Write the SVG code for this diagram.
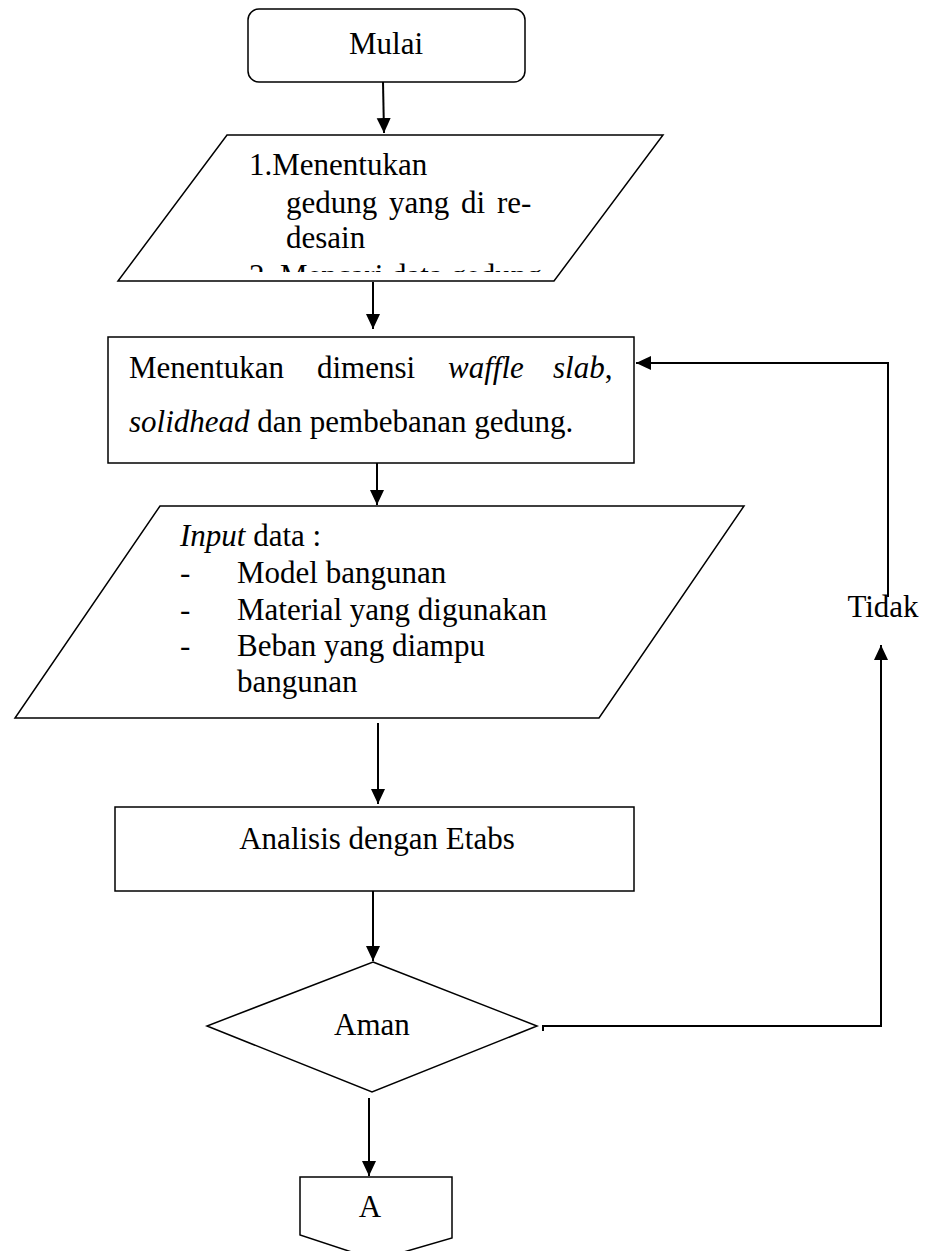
<svg xmlns="http://www.w3.org/2000/svg" width="928" height="1251" viewBox="0 0 928 1251">
<style>
.shape{fill:#fff;stroke:#000;stroke-width:1.5}
.conn{fill:none;stroke:#000;stroke-width:2}
text{font-family:"Liberation Serif","Times New Roman",serif;font-size:31px;fill:#000}
.i{font-style:italic}
</style>
<defs>
<marker id="ah" markerUnits="userSpaceOnUse" markerWidth="16" markerHeight="15" refX="15" refY="7" orient="auto">
<path d="M0,0 L15,7 L0,14 z" fill="#000"/>
</marker>
<clipPath id="c1"><rect x="100" y="136" width="600" height="136"/></clipPath>
</defs>
<rect width="928" height="1251" fill="#fff"/>
<g id="connectors">
<line class="conn" x1="383" y1="82" x2="384" y2="133" marker-end="url(#ah)"/>
<line class="conn" x1="373" y1="282" x2="373" y2="329" marker-end="url(#ah)"/>
<line class="conn" x1="377" y1="463" x2="377" y2="505" marker-end="url(#ah)"/>
<line class="conn" x1="378" y1="723" x2="378" y2="804" marker-end="url(#ah)"/>
<line class="conn" x1="373" y1="891" x2="373" y2="961" marker-end="url(#ah)"/>
<line class="conn" x1="369" y1="1098" x2="369" y2="1176" marker-end="url(#ah)"/>
<path class="conn" d="M543,1031 L543,1026 L881,1026 L881,645" marker-end="url(#ah)"/>
<path class="conn" d="M888,597 L888,363 L636,363" marker-end="url(#ah)"/>
</g>
<g id="mulai">
<rect class="shape" x="248" y="9" width="277" height="73" rx="11"/>
<text x="386" y="54" text-anchor="middle">Mulai</text>
</g>
<g id="input1">
<polygon class="shape" points="227,135 663,135 554,281 118,281"/>
<g clip-path="url(#c1)">
<text x="249" y="175">1.Menentukan</text>
<text x="286" y="213" word-spacing="4">gedung yang di re-</text>
<text x="286" y="248">desain</text>
<text x="249" y="286">2. Mencari data gedung</text>
</g>
</g>
<g id="dimensi">
<rect class="shape" x="108" y="337" width="526" height="126"/>
<text y="378"><tspan x="129">Menentukan</tspan><tspan x="317">dimensi</tspan><tspan x="448" class="i">waffle</tspan><tspan x="553" class="i">slab</tspan><tspan>,</tspan></text>
<text x="129" y="432"><tspan class="i">solidhead</tspan> dan pembebanan gedung.</text>
</g>
<g id="input2">
<polygon class="shape" points="160,506 744,506 599,718 15,718"/>
<text x="180" y="546"><tspan class="i">Input</tspan> data :</text>
<text x="180" y="583">-</text><text x="237" y="583">Model bangunan</text>
<text x="180" y="620">-</text><text x="237" y="620">Material yang digunakan</text>
<text x="180" y="656">-</text><text x="237" y="656">Beban yang diampu</text>
<text x="237" y="692">bangunan</text>
</g>
<g id="analisis">
<rect class="shape" x="115" y="807" width="519" height="84"/>
<text x="377" y="849" text-anchor="middle">Analisis dengan Etabs</text>
</g>
<g id="aman">
<polygon class="shape" points="373,962 537,1026 372,1092 207,1026"/>
<text x="372" y="1035" text-anchor="middle">Aman</text>
</g>
<g id="tidak">
<text x="883" y="617" text-anchor="middle">Tidak</text>
</g>
<g id="connector-a">
<polygon class="shape" points="300,1177 452,1177 452,1238 376,1260 300,1235"/>
<text x="370" y="1217" text-anchor="middle">A</text>
</g>
</svg>
